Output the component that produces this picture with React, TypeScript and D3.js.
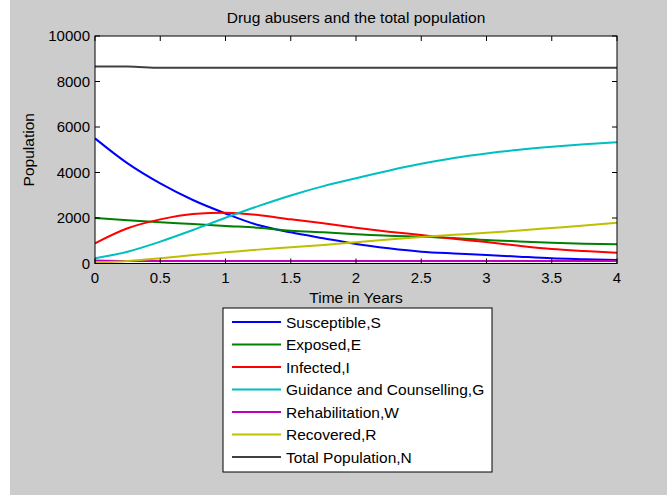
import React from "react";
import * as d3 from "d3";

const times = [0, 0.25, 0.5, 0.75, 1, 1.25, 1.5, 1.75, 2, 2.25, 2.5, 2.75, 3, 3.25, 3.5, 3.75, 4];
const susceptible = [5500, 4400, 3520, 2790, 2200, 1690, 1370, 1110, 860, 670, 520, 440, 375, 300, 230, 190, 155];
const exposed = [2000, 1900, 1810, 1735, 1650, 1575, 1440, 1370, 1290, 1220, 1180, 1120, 1030, 970, 915, 870, 845];
const infected = [890, 1550, 1940, 2180, 2230, 2130, 1940, 1765, 1575, 1400, 1250, 1090, 940, 780, 640, 550, 475];
const guidance = [230, 520, 960, 1470, 2010, 2520, 2990, 3400, 3750, 4080, 4380, 4640, 4840, 5000, 5130, 5240, 5330];
const rehabilitation = [130, 110, 110, 110, 110, 110, 110, 110, 110, 110, 110, 110, 110, 110, 110, 110, 110];
const recovered = [35, 110, 230, 370, 490, 610, 710, 810, 930, 1060, 1170, 1260, 1350, 1450, 1560, 1670, 1795];
const totalPop = [8660, 8660, 8600, 8600, 8600, 8600, 8600, 8600, 8600, 8600, 8600, 8600, 8600, 8600, 8600, 8600, 8600];

const seriesNames = [
  "Susceptible,S",
  "Exposed,E",
  "Infected,I",
  "Guidance and Counselling,G",
  "Rehabilitation,W",
  "Recovered,R",
  "Total Population,N",
];
const seriesValues = [susceptible, exposed, infected, guidance, rehabilitation, recovered, totalPop];
const seriesColors = ["#0000ff", "#008000", "#ff0000", "#00bfbf", "#bf00bf", "#bfbf00", "#404040"];

const xTicks = [0, 0.5, 1, 1.5, 2, 2.5, 3, 3.5, 4];
const yTicks = [0, 2000, 4000, 6000, 8000, 10000];

const W = 667;
const H = 495;
const left = 95;
const right = 617;
const top = 36;
const bottom = 263.5;
const FONT = "'Liberation Sans', Arial, sans-serif";

export default function App() {
  const x = d3.scaleLinear().domain([0, 4]).range([left, right]);
  const y = d3.scaleLinear().domain([0, 10000]).range([bottom, top]);
  const line = d3
    .line<number>()
    .x((_, i) => x(times[i]))
    .y((d) => y(d))
    .curve(d3.curveMonotoneX);

  const legX = 223;
  const legY = 308;
  const legW = 269;
  const legH = 164;
  const rowH = 22.5;

  return (
    <svg
      width={W}
      height={H}
      style={{ position: "absolute", left: 0, top: 0 }}
      fontFamily={FONT}
    >
      <rect x={0} y={0} width={W} height={H} fill="#ffffff" />
      <rect x={10} y={0} width={W - 10} height={H} fill="#cccccc" />
      <text x={(left + right) / 2} y={23} textAnchor="middle" fontSize={15.5} fill="#000">
        Drug abusers and the total population
      </text>
      <rect x={left} y={top} width={right - left} height={bottom - top} fill="#ffffff" />
      <defs>
        <clipPath id="clip">
          <rect x={left} y={top} width={right - left} height={bottom - top} />
        </clipPath>
      </defs>
      <g clipPath="url(#clip)">
        {seriesValues.map((vals, k) => (
          <path key={k} d={line(vals) || ""} fill="none" stroke={seriesColors[k]} strokeWidth={2} />
        ))}
      </g>
      <rect x={left} y={top} width={right - left} height={bottom - top} fill="none" stroke="#000" strokeWidth={1} />
      {xTicks.map((t) => (
        <g key={"x" + t}>
          <line x1={x(t)} x2={x(t)} y1={bottom} y2={bottom - 5} stroke="#000" />
          <line x1={x(t)} x2={x(t)} y1={top} y2={top + 5} stroke="#000" />
          <text x={x(t)} y={bottom + 19} textAnchor="middle" fontSize={15} fill="#000">
            {String(t)}
          </text>
        </g>
      ))}
      {yTicks.map((t) => (
        <g key={"y" + t}>
          <line x1={left} x2={left + 5} y1={y(t)} y2={y(t)} stroke="#000" />
          <line x1={right} x2={right - 5} y1={y(t)} y2={y(t)} stroke="#000" />
          <text x={left - 5} y={y(t) + 5.4} textAnchor="end" fontSize={15} fill="#000">
            {String(t)}
          </text>
        </g>
      ))}
      <text x={(left + right) / 2} y={303} textAnchor="middle" fontSize={15.5} fill="#000">
        Time in Years
      </text>
      <text
        transform={`translate(34, ${(top + bottom) / 2}) rotate(-90)`}
        textAnchor="middle"
        fontSize={15.5}
        fill="#000"
      >
        Population
      </text>
      <rect x={legX} y={legY} width={legW} height={legH} fill="#ffffff" stroke="#000" strokeWidth={1} />
      {seriesNames.map((name, k) => {
        const cy = legY + 14 + k * rowH;
        return (
          <g key={name}>
            <line x1={legX + 9} x2={legX + 58} y1={cy} y2={cy} stroke={seriesColors[k]} strokeWidth={2} />
            <text x={legX + 63} y={cy + 5.5} fontSize={15.5} fill="#000">
              {name}
            </text>
          </g>
        );
      })}
    </svg>
  );
}
